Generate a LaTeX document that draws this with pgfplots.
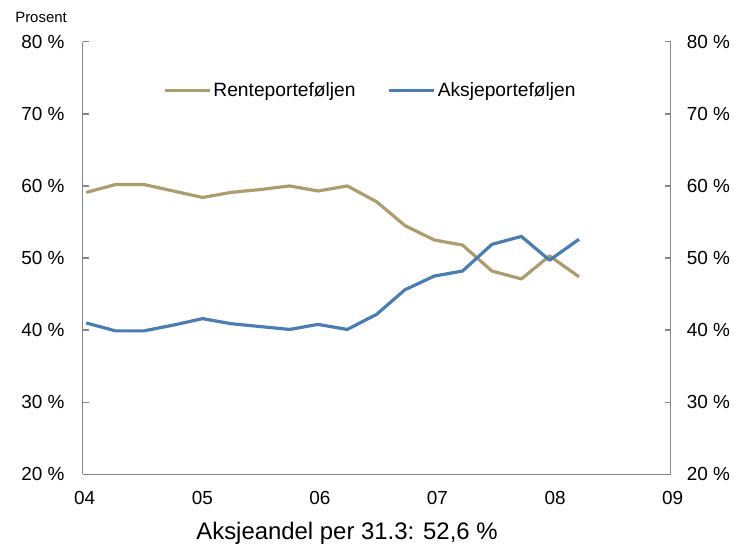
\documentclass[border=0pt]{standalone}
\usepackage{pgfplots}
\pgfplotsset{compat=1.18}
\usepackage{fontspec}
\setmainfont{Liberation Sans}

\definecolor{rente}{RGB}{172,157,110}
\definecolor{aksje}{RGB}{74,126,178}
\definecolor{akse}{RGB}{134,134,134}

\pgfplotsset{
  felles/.style={
    scale only axis, width=588bp, height=432.7bp,
    at={(0,0)}, anchor=south west,
    xmin=2004, xmax=2009, ymin=20, ymax=80,
    ytick={20,30,...,80},
    yticklabels={20 \%,30 \%,40 \%,50 \%,60 \%,70 \%,80 \%},
    tick align=inside, major tick length=6bp,
    axis line style={akse, line width=1.5bp},
    ytick style={akse, line width=1.5bp},
    xtick style={draw=none},
    tick label style={font=\fontsize{19}{22}\selectfont, inner sep=0pt},
  }
}

\begin{document}
\begin{tikzpicture}
\path[use as bounding box] (-82.7bp,-76.6bp) rectangle (654.3bp,474.4bp);

\begin{axis}[felles,
  axis y line*=left, axis x line*=bottom,
  yticklabel shift=18bp,
  xtick={2004,2005,2006,2007,2008,2009},
  xticklabels={04,05,06,07,08,09},
  xticklabel shift=16.5bp,
  xticklabel style={xshift=2bp},
  legend style={draw=none, fill=none, at={(0.1366,0.887)}, anchor=west,
    legend columns=2, inner sep=0pt, font=\fontsize{19.3}{22}\selectfont,
    nodes={inner sep=2bp},
    /tikz/every even column/.append style={column sep=30bp}},
  legend cell align=left,
  legend image code/.code={\draw[#1] (0bp,0bp) -- (45bp,0bp);},
]
% Renteporteføljen
\addplot[rente, line width=3.2bp, line join=round] coordinates {
  (2004.03,59.1) (2004.28,60.2) (2004.52,60.2) (2004.77,59.3)
  (2005.02,58.4) (2005.26,59.1) (2005.51,59.5) (2005.76,60.0)
  (2006.00,59.3) (2006.25,60.0) (2006.50,57.8) (2006.74,54.5)
  (2006.99,52.5) (2007.23,51.8) (2007.48,48.2) (2007.73,47.1)
  (2007.97,50.3) (2008.22,47.4)
};
% Aksjeporteføljen
\addplot[aksje, line width=3.2bp, line join=round] coordinates {
  (2004.03,41.0) (2004.28,39.9) (2004.52,39.9) (2004.77,40.7)
  (2005.02,41.6) (2005.26,40.9) (2005.51,40.5) (2005.76,40.1)
  (2006.00,40.8) (2006.25,40.1) (2006.50,42.2) (2006.74,45.6)
  (2006.99,47.5) (2007.23,48.2) (2007.48,51.9) (2007.73,53.0)
  (2007.97,49.7) (2008.22,52.6)
};
\legend{Renteporteføljen, Aksjeporteføljen}
\end{axis}

\begin{axis}[felles,
  axis y line*=right, axis x line=none,
  yticklabel shift=16bp,
]
\end{axis}

% akseetikett og undertittel (aksen står med nedre venstre hjørne i origo)
\node[anchor=base east, font=\fontsize{15}{18}\selectfont, inner sep=0pt]
  at (-15.7bp,451.7bp) {Prosent};
\node[font=\fontsize{24}{28}\selectfont, inner sep=0pt]
  at (264.3bp,-58.6bp) {Aksjeandel per 31.3: 52,6 \%};
\end{tikzpicture}
\end{document}
